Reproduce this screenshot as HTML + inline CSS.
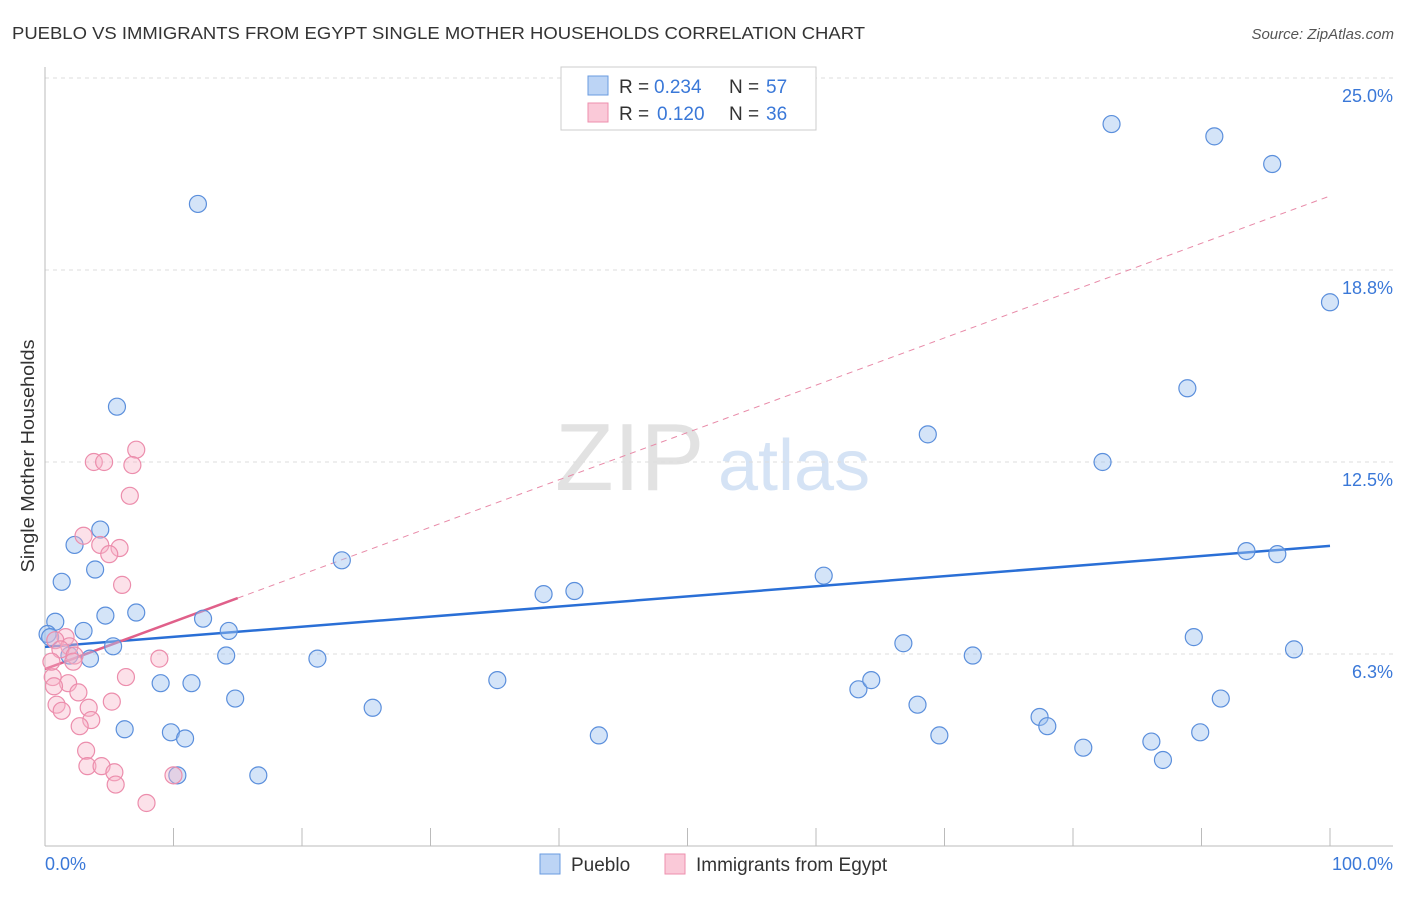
<!DOCTYPE html>
<html><head><meta charset="utf-8"><style>
body{margin:0;background:#fff;font-family:"Liberation Sans",sans-serif;}
svg text{font-family:"Liberation Sans",sans-serif;}
</style></head><body>
<svg id="chart" width="1406" height="892" xmlns="http://www.w3.org/2000/svg">
<text x="12" y="39" font-size="17.5" fill="#333" textLength="853" lengthAdjust="spacingAndGlyphs">PUEBLO VS IMMIGRANTS FROM EGYPT SINGLE MOTHER HOUSEHOLDS CORRELATION CHART</text>
<text x="1394" y="39" font-size="15" fill="#555" text-anchor="end" font-style="italic">Source: ZipAtlas.com</text>
<text x="555" y="490" font-size="96" fill="#e2e2e2" font-family="Liberation Serif">ZIP</text>
<text x="718" y="490" font-size="72" fill="#d5e3f5">atlas</text>
<text transform="translate(34,456) rotate(-90)" font-size="18" fill="#333" text-anchor="middle" textLength="233" lengthAdjust="spacingAndGlyphs">Single Mother Households</text>
<g id="grid"></g><g id="axes"></g><g id="trend"></g><g id="pts"></g>
<g>
<rect x="561" y="67" width="255" height="63" fill="#fff" stroke="#ccc"/>
<rect x="588" y="76" width="20" height="19" fill="#bcd4f5" stroke="#6a9be0"/>
<text x="619" y="93" font-size="19" fill="#333">R = </text><text x="654" y="93" font-size="19" fill="#3a78d8">0.234</text>
<text x="729" y="93" font-size="19" fill="#333">N = </text><text x="766" y="93" font-size="19" fill="#3a78d8">57</text>
<rect x="588" y="103" width="20" height="19" fill="#fac9d8" stroke="#ee8fae"/>
<text x="619" y="120" font-size="19" fill="#333">R = </text><text x="657" y="120" font-size="19" fill="#3a78d8">0.120</text>
<text x="729" y="120" font-size="19" fill="#333">N = </text><text x="766" y="120" font-size="19" fill="#3a78d8">36</text>
</g>
<g>
<rect x="540" y="854" width="20" height="20" fill="#bcd4f5" stroke="#6a9be0"/>
<text x="571" y="871" font-size="19" fill="#333">Pueblo</text>
<rect x="665" y="854" width="20" height="20" fill="#fac9d8" stroke="#ee8fae"/>
<text x="696" y="871" font-size="19" fill="#333">Immigrants from Egypt</text>
</g>
<text x="45" y="870" font-size="18" fill="#3a78d8">0.0%</text>
<text x="1393" y="870" font-size="18" fill="#3a78d8" text-anchor="end">100.0%</text>
</svg>
<script>
const yTicks=[6.25,12.5,18.75,25];
const yTickLabels=["6.3%","12.5%","18.8%","25.0%"];
const blueX=[5.6,11.9,4.3,2.3,3.9,1.3,7.1,4.7,0.8,3.0,0.2,0.4,5.3,3.5,1.9,12.3,14.3,14.1,9.0,11.4,14.8,6.2,9.8,10.9,10.3,16.6,23.1,21.2,25.5,35.2,38.8,41.2,43.1,60.6,66.8,63.3,64.3,67.9,69.6,68.7,72.2,77.4,78.0,80.8,82.3,83.0,86.1,87.0,88.9,89.4,89.9,91.0,91.5,93.5,95.5,95.9,97.2,100];
const blueY=[14.3,20.9,10.3,9.8,9.0,8.6,7.6,7.5,7.3,7.0,6.9,6.8,6.5,6.1,6.2,7.4,7.0,6.2,5.3,5.3,4.8,3.8,3.7,3.5,2.3,2.3,9.3,6.1,4.5,5.4,8.2,8.3,3.6,8.8,6.6,5.1,5.4,4.6,3.6,13.4,6.2,4.2,3.9,3.2,12.5,23.5,3.4,2.8,14.9,6.8,3.7,23.1,4.8,9.6,22.2,9.5,6.4,17.7];
const pinkX=[7.1,3.8,4.6,6.8,6.6,3.0,4.3,5.8,5.0,6.0,1.6,0.8,1.9,1.2,2.3,2.2,8.9,6.3,0.6,1.8,0.7,2.6,0.9,3.4,5.2,1.3,3.6,2.7,3.2,3.3,4.4,5.4,5.5,10.0,7.9,0.5];
const pinkY=[12.9,12.5,12.5,12.4,11.4,10.1,9.8,9.7,9.5,8.5,6.8,6.7,6.5,6.4,6.2,6.0,6.1,5.5,5.5,5.3,5.2,5.0,4.6,4.5,4.7,4.4,4.1,3.9,3.1,2.6,2.6,2.4,2.0,2.3,1.4,6.0];
const blueTrend=[6.48,9.77];
const pinkTrend=[5.76,21.16];
const X=v=>45+v*12.85, Y=v=>846-v*30.72;
const NS="http://www.w3.org/2000/svg";
function mk(tag,attrs,parent){const e=document.createElementNS(NS,tag);for(const k in attrs)e.setAttribute(k,attrs[k]);document.getElementById(parent).appendChild(e);return e;}
yTicks.forEach((t,i)=>{
 const g=mk('line',{x1:45,x2:1393,y1:Y(t),y2:Y(t),stroke:'#ddd','stroke-dasharray':'4,4'},'grid');
 
 
 const tx=mk('text',{x:1393,y:Y(t)+24,'font-size':18,fill:'#3a78d8','text-anchor':'end'},'grid');
 tx.textContent=yTickLabels[i];
 
 
});
const ya=mk('line',{x1:45,x2:45,y1:67,y2:846,stroke:'#bbb'},'axes');


const xa=mk('line',{x1:45,x2:1393,y1:846,y2:846,stroke:'#bbb'},'axes');


for(let i=0;i<=10;i++){const t=mk('line',{x1:X(i*10),x2:X(i*10),y1:828,y2:846,stroke:'#bbb'},'axes');
 
 }
const bt=mk('line',{x1:X(0),y1:Y(blueTrend[0]),x2:X(100),y2:Y(blueTrend[1]),stroke:'#2a6fd6','stroke-width':2.5},'trend');


const pv=x=>pinkTrend[0]+(pinkTrend[1]-pinkTrend[0])*x/100;
const pd=mk('line',{x1:X(15),y1:Y(pv(15)),x2:X(100),y2:Y(pv(100)),stroke:'#e88aa8','stroke-width':1,'stroke-dasharray':'6,5'},'trend');


const ps=mk('line',{x1:X(0),y1:Y(pv(0)),x2:X(15),y2:Y(pv(15)),stroke:'#e0608a','stroke-width':2.5},'trend');


blueX.forEach((x,i)=>{const c=mk('circle',{cx:X(x),cy:Y(blueY[i]),r:8.5,fill:'rgba(160,195,240,0.45)',stroke:'#5b8fdc','stroke-width':1.2},'pts');
 
 });
pinkX.forEach((x,i)=>{const c=mk('circle',{cx:X(x),cy:Y(pinkY[i]),r:8.5,fill:'rgba(248,180,200,0.4)',stroke:'#ec8dac','stroke-width':1.2},'pts');
 
 });
</script>
</body></html>
